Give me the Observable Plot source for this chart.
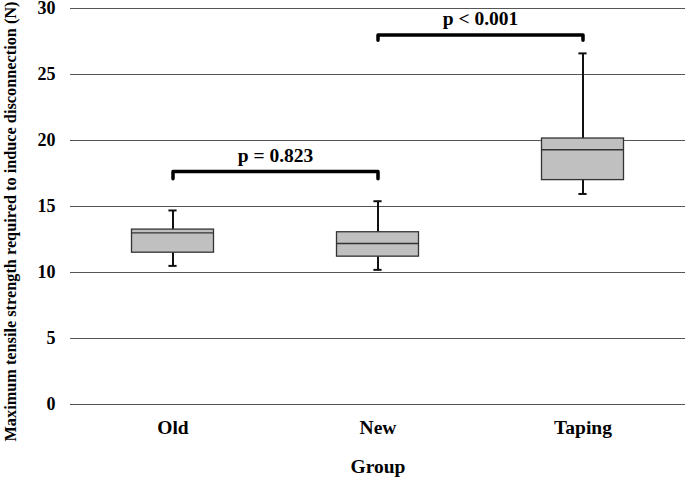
<!DOCTYPE html>
<html><head><meta charset="utf-8">
<script src="https://cdn.jsdelivr.net/npm/d3@7"></script>
<script src="https://cdn.jsdelivr.net/npm/@observablehq/plot@0.6"></script>
<style>body{margin:0;background:#fff;font-family:"Liberation Serif",serif;}</style>
</head><body><div id="chart"></div>
<script>
const groups = ["Old", "New", "Taping"];
const whiskerLow = [10.5, 10.2, 15.95];
const q1 = [11.5, 11.2, 17.0];
const median = [13.0, 12.2, 19.3];
const q3 = [13.25, 13.05, 20.15];
const whiskerHigh = [14.7, 15.4, 26.6];
const yTicks = [0, 5, 10, 15, 20, 25, 30];
const comparisons = [
  {from: 0, to: 1, y: 17.65, yEnd: 17.1, label: "p = 0.823"},
  {from: 1, to: 2, y: 28.0, yEnd: 27.6, label: "p < 0.001"}
];
const yTitle = "Maximum tensile strength required to induce disconnection (N)";
const xTitle = "Group";

const stats = groups.map((g, i) => ({i, g, lo: whiskerLow[i], q1: q1[i], med: median[i], q3: q3[i], hi: whiskerHigh[i]}));
const bracketPts = comparisons.flatMap((c, k) => [
  {k, x: c.from, y: c.yEnd}, {k, x: c.from, y: c.y}, {k, x: c.to, y: c.y}, {k, x: c.to, y: c.yEnd}
]);
const boxHalf = 0.2, capHalf = 0.02;
const font = "Liberation Serif";

const chart = Plot.plot({
  width: 685, height: 479,
  marginTop: 8, marginBottom: 75, marginLeft: 70, marginRight: 0,
  style: {fontFamily: font, background: "#fff"},
  x: {domain: [-0.5, 2.5]},
  y: {domain: [0, 30]},
  marks: [
    Plot.ruleY(yTicks, {stroke: "#555", strokeWidth: 1}),
    Plot.axisY({ticks: yTicks, tickSize: 0, tickPadding: 15, label: null, fontSize: 18, fontWeight: "bold", fill: "#000"}),
    Plot.axisX({ticks: [0, 1, 2], tickFormat: i => groups[i], tickSize: 0, tickPadding: 16, label: null, fontSize: 19.5, fontWeight: "bold", fill: "#000"}),
    // whiskers
    Plot.ruleX(stats, {x: "i", y1: "lo", y2: "q1", stroke: "#111", strokeWidth: 2}),
    Plot.ruleX(stats, {x: "i", y1: "q3", y2: "hi", stroke: "#111", strokeWidth: 2}),
    Plot.ruleY(stats, {y: "lo", x1: d => d.i - capHalf, x2: d => d.i + capHalf, stroke: "#111", strokeWidth: 2}),
    Plot.ruleY(stats, {y: "hi", x1: d => d.i - capHalf, x2: d => d.i + capHalf, stroke: "#111", strokeWidth: 2}),
    // boxes
    Plot.rect(stats, {x1: d => d.i - boxHalf, x2: d => d.i + boxHalf, y1: "q1", y2: "q3", fill: "#c0c0c0", stroke: "#333", strokeWidth: 1.3}),
    Plot.ruleY(stats, {y: "med", x1: d => d.i - boxHalf, x2: d => d.i + boxHalf, stroke: "#333", strokeWidth: 1.4}),
    // brackets
    Plot.line(bracketPts, {x: "x", y: "y", z: "k", stroke: "#000", strokeWidth: 3.5}),
    Plot.text(comparisons, {x: d => (d.from + d.to) / 2, y: "y", text: "label", dy: -16, fontSize: 19.5, fontWeight: "bold", fill: "#000"}),
    // titles
    Plot.text([yTitle], {frameAnchor: "left", textAnchor: "middle", rotate: -90, dx: -60, dy: 15, fontSize: 16.3, fontWeight: "bold", fill: "#000"}),
    Plot.text([xTitle], {frameAnchor: "bottom", dy: 68, fontSize: 19.5, fontWeight: "bold", fill: "#000"})
  ]
});
document.getElementById("chart").appendChild(chart);
</script></body></html>
